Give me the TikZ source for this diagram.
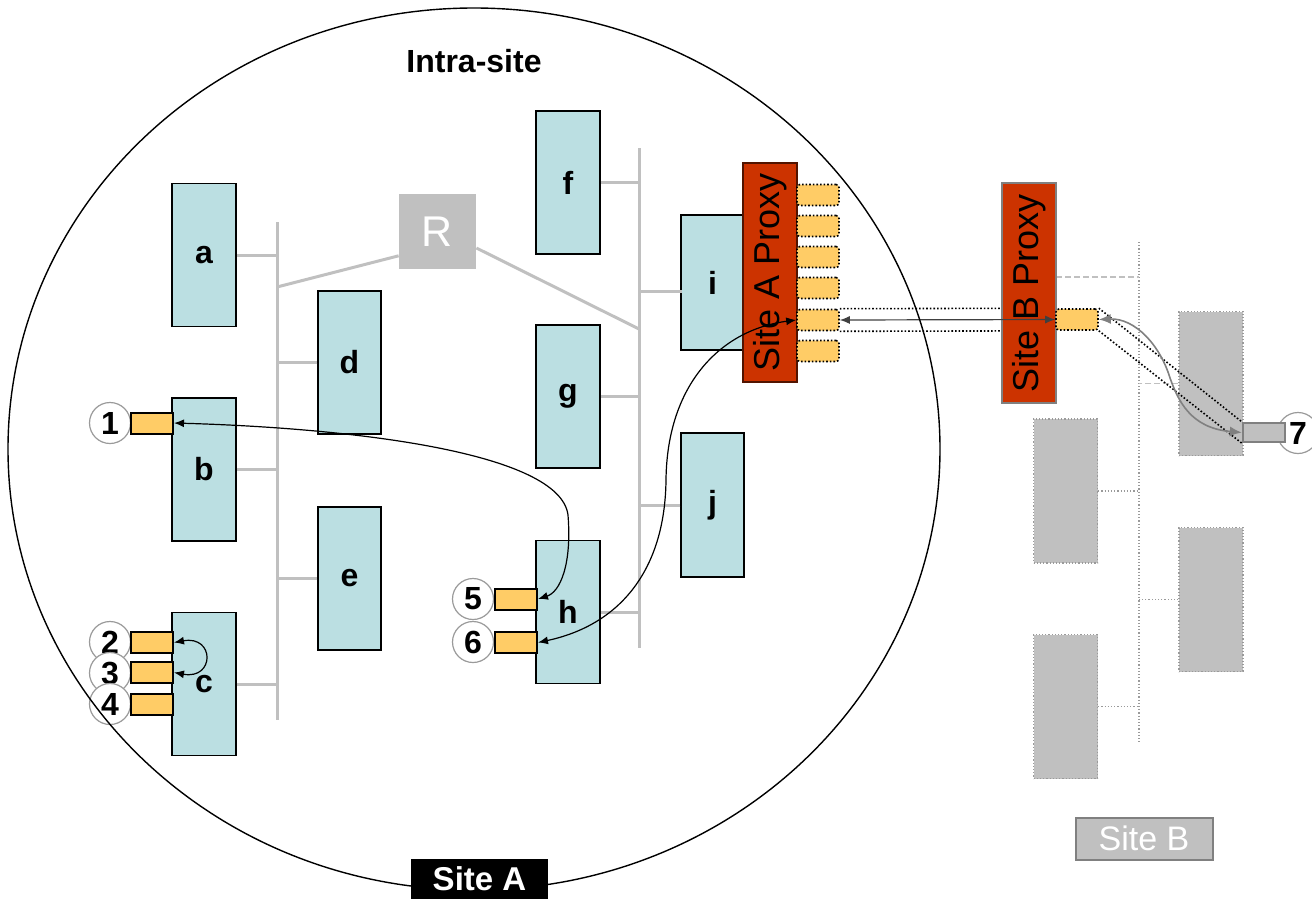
\documentclass[tikz,border=0pt]{standalone}
\usepackage{fontspec}
\setmainfont{Liberation Sans}
\usetikzlibrary{arrows.meta,backgrounds}
\definecolor{hostfill}{HTML}{BBDFE2}
\definecolor{proxyred}{HTML}{CC3300}
\definecolor{portyel}{HTML}{FFCC66}
\definecolor{lgray}{HTML}{C0C0C0}
\definecolor{mgray}{HTML}{9A9A9A}
\definecolor{dgray}{HTML}{808080}
\tikzset{
  host/.style={draw=black, line width=0.75pt, fill=hostfill, minimum width=32pt, minimum height=71.5pt, inner sep=0pt, font=\fontsize{16}{16}\selectfont\bfseries},
  rhost/.style={draw=mgray, densely dotted, line width=0.6pt, fill=lgray, minimum width=32pt, minimum height=72pt, inner sep=0pt},
  bus/.style={draw=lgray, line width=1.5pt},
  rbus/.style={draw=mgray, densely dotted, line width=0.6pt},
  rbusl/.style={draw=lgray, dash pattern=on 3pt off 1.5pt, line width=0.6pt},
  port/.style={draw=black, line width=1pt, fill=portyel, minimum width=21pt, minimum height=10.5pt, inner sep=0pt},
  vport/.style={draw=black, densely dotted, line width=0.8pt, fill=portyel, rounded corners=1.5pt, minimum width=21pt, minimum height=10.5pt, inner sep=0pt},
  num/.style={circle, draw=mgray, fill=white, line width=0.6pt, minimum size=20.5pt, inner sep=0pt, font=\fontsize{16}{16}\selectfont\bfseries},
  proxy/.style={rotate=90, fill=proxyred, line width=0.8pt, minimum height=27pt, inner sep=0pt, font=\fontsize{18}{18}\selectfont},
  conn/.style={{Latex[length=5pt,width=4pt]}-{Latex[length=5pt,width=4pt]}, line width=0.6pt, black},
  gconn/.style={{Latex[length=6pt,width=5pt]}-{Latex[length=6pt,width=5pt]}, line width=0.8pt, dgray},
  tunnel/.style={black, densely dotted, line width=0.8pt},
}
\begin{document}
\begin{tikzpicture}[x=0.5pt,y=-0.5pt]
\useasboundingbox (0,0) rectangle (1312,900);
\clip (0,0) rectangle (1312,900);

\node[font=\fontsize{16}{16}\selectfont\bfseries] (intra) at (474,61) {Intra-site};

% bus coordinates
\coordinate (LT) at (277,222);
\coordinate (LB) at (277,720);
\coordinate (RT) at (639,148);
\coordinate (RB) at (639,648);
\coordinate (LR) at (277,287);
\coordinate (RR) at (639,329);
\coordinate (iB) at (682,291);
\draw[bus] (LT) -- (LB);
\draw[bus] (RT) -- (RB);

% router
\node[fill=lgray, text=white, minimum width=38.5pt, minimum height=37.5pt, inner sep=0pt, font=\fontsize{21.5}{21.5}\selectfont] (R) at (437.5,231.5) {R};
\draw[bus] (LR) -- (R.212);
\draw[bus] (R.337) -- (RR);

% hosts of site A
\node[host] (a) at (204,255) {a};
\node[host] (b) at (204,469.5) {b};
\node[host] (c) at (204,684) {c};
\node[host, minimum width=31.5pt] (d) at (349.5,362.5) {d};
\node[host, minimum width=31.5pt] (e) at (349.5,578.5) {e};
\node[host] (f) at (568,182.5) {f};
\node[host] (g) at (568,396.5) {g};
\node[host] (h) at (568,612) {h};
\node[host, minimum width=31.5pt, minimum height=67.5pt] (i) at (712.5,282.5) {i};
\node[host, minimum width=31.5pt, minimum height=72pt] (j) at (712.5,505) {j};

\draw[bus] (a.east) -- (a.east -| LT);
\draw[bus] (b.east) -- (b.east -| LT);
\draw[bus] (c.east) -- (c.east -| LT);
\draw[bus] (d.west) -- (d.west -| LT);
\draw[bus] (e.west) -- (e.west -| LT);
\draw[bus] (f.east) -- (f.east -| RT);
\draw[bus] (g.east) -- (g.east -| RT);
\draw[bus] (h.east) -- (h.east -| RT);
\draw[bus] (iB) -- (iB -| RT);
\draw[bus] (j.west) -- (j.west -| RT);

% proxies
\node[proxy, draw=black!60!proxyred, minimum width=109.5pt] (pxA) at (770,272.5) {Site A Proxy};
\foreach \k/\y in {1/195,2/226,3/257,4/288,5/320,6/351}
  \node[vport] (pa\k) at (818,\y) {};

% site B
\coordinate (BT) at (1139,242);
\coordinate (BB) at (1139,743);
\coordinate (pbB) at (1056,277);
\draw[rbus] (BT) -- (BB);
\draw[rbusl] (pbB) -- (pbB -| BT);
\node[rhost] (sb1) at (1211,383.5) {};
\node[rhost] (sb2) at (1065.5,491) {};
\node[rhost] (sb3) at (1211,599.5) {};
\node[rhost] (sb4) at (1065.5,706.5) {};
\draw[rbusl] (sb1.west) -- (sb1.west -| BT);
\draw[rbus] (sb2.east) -- (sb2.east -| BT);
\draw[rbus] (sb3.west) -- (sb3.west -| BT);
\draw[rbus] (sb4.east) -- (sb4.east -| BT);

\node[proxy, draw=dgray, minimum width=110pt] (pxB) at (1029,293) {Site B Proxy};
\node[vport] (pb) at (1077,319.5) {};

% tunnel between proxies
\begin{scope}[on background layer]
\draw[tunnel] (pa5.north east) -- (pb.north west);
\draw[tunnel] (pa5.south east) -- (pb.south west);
\end{scope}
\draw[conn, draw=black!75] (pa5.east) -- (pb.west);

% application 7 in site B
\node[num] (n7) at (1298,433) {7};
\node[draw=dgray, line width=1.2pt, fill=lgray, minimum width=21pt, minimum height=9.5pt, inner sep=0pt] (b7) at (1264,432.5) {};
\draw[tunnel] (pb.north east) -- (b7.north west);
\draw[tunnel] (pb.south east) -- (b7.south west);
\draw[gconn] (b7.west) .. controls (1190,428) and (1178,400) .. (1170,378) .. controls (1160,345) and (1135,318) .. (pb.east);

% numbered applications in site A
\node[num] (n1) at (110,423) {1};
\node[num] (n2) at (110,642) {2};
\node[num] (n3) at (110,673) {3};
\node[num] (n4) at (110,704) {4};
\node[num] (n5) at (473,599) {5};
\node[num] (n6) at (473,642) {6};

% site A boundary (crosses circle 4)
\draw[line width=0.7pt] (474,449) ellipse [x radius=233pt, y radius=220.5pt];

\node[port] (p1) at (152,423) {};
\node[port] (p2) at (152,642.5) {};
\node[port] (p3) at (152,672.5) {};
\node[port] (p4) at (152,704) {};
\node[port] (p5) at (516,599) {};
\node[port] (p6) at (516,642.5) {};

% connections
\draw[conn] (p1.east) .. controls (350,428) and (560,452) .. (568,515) .. controls (572,565) and (560,592) .. (p5.east);
\draw[conn] (p2.east) .. controls (215,635) and (215,680) .. (p3.east);
\draw[conn] (p6.east) .. controls (620,625) and (665,570) .. (666,480) .. controls (667,385) and (720,330) .. (pa5.west);

% site labels
\node[fill=black, text=white, minimum width=68.5pt, minimum height=20pt, inner sep=0pt, font=\fontsize{16.5}{16.5}\selectfont\bfseries] (siteA) at (479.5,879) {Site A};
\node[fill=lgray, draw=dgray, line width=1pt, text=white, minimum width=68.5pt, minimum height=21pt, inner sep=0pt, font=\fontsize{17}{17}\selectfont] (siteB) at (1144,838.5) {Site B};
\end{tikzpicture}
\end{document}
